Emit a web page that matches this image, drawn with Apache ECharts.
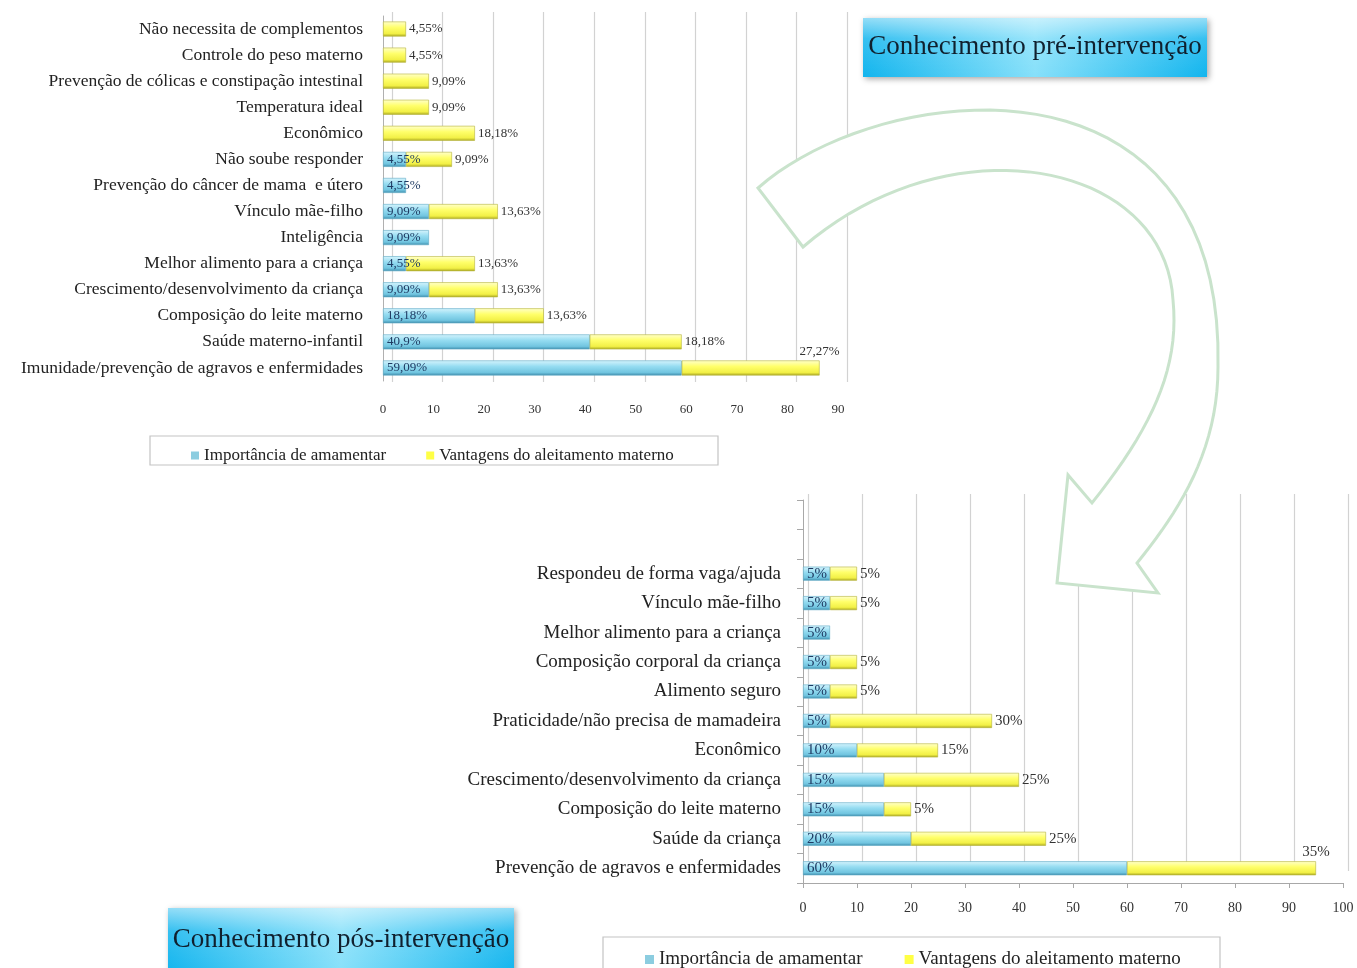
<!DOCTYPE html>
<html>
<head>
<meta charset="utf-8">
<script src="https://cdn.jsdelivr.net/npm/echarts@6/dist/echarts.min.js"></script>
<style>
html,body{margin:0;padding:0;background:#fff;}
#chart{width:1357px;height:968px;}
</style>
</head>
<body>
<div id="chart"></div>
<script>
// ---------- DATA ----------
const seriesNames = ['Importância de amamentar', 'Vantagens do aleitamento materno'];

const preCategories = [
  'Não necessita de complementos',
  'Controle do peso materno',
  'Prevenção de cólicas e constipação intestinal',
  'Temperatura ideal',
  'Econômico',
  'Não soube responder',
  'Prevenção do câncer de mama  e útero',
  'Vínculo mãe-filho',
  'Inteligência',
  'Melhor alimento para a criança',
  'Crescimento/desenvolvimento da criança',
  'Composição do leite materno',
  'Saúde materno-infantil',
  'Imunidade/prevenção de agravos e enfermidades'
];
const preImportancia = [0, 0, 0, 0, 0, 4.55, 4.55, 9.09, 9.09, 4.55, 9.09, 18.18, 40.9, 59.09];
const preVantagens   = [4.55, 4.55, 9.09, 9.09, 18.18, 9.09, 0, 13.63, 0, 13.63, 13.63, 13.63, 18.18, 27.27];

const posCategories = [
  ' ',
  '  ',
  'Respondeu de forma vaga/ajuda',
  'Vínculo mãe-filho',
  'Melhor alimento para a criança',
  'Composição corporal da criança',
  'Alimento seguro',
  'Praticidade/não precisa de mamadeira',
  'Econômico',
  'Crescimento/desenvolvimento da criança',
  'Composição do leite materno',
  'Saúde da criança',
  'Prevenção de agravos e enfermidades'
];
const posImportancia = [0, 0, 5, 5, 5, 5, 5, 5, 10, 15, 15, 20, 60];
const posVantagens   = [0, 0, 5, 5, 0, 5, 5, 30, 15, 25, 5, 25, 35];

const preAxisMax = 90;
const posAxisMax = 100;
const axisStep = 10;

const preTitle = 'Conhecimento pré-intervenção';
const posTitle = 'Conhecimento pós-intervenção';

// ---------- HELPERS ----------
const SERIF = "'Liberation Serif', 'DejaVu Serif', serif";
const fmt = v => String(v).replace('.', ',') + '%';
const labelText = p => (typeof p.value === 'number' && p.value > 0 ? fmt(p.value) : '');
const noZero = v => (v === 0 ? '-' : v);

const blueFill = {
  type: 'linear', x: 0, y: 0, x2: 0, y2: 1,
  colorStops: [
    { offset: 0, color: '#d6f4fd' },
    { offset: 0.4, color: '#95dcf1' },
    { offset: 0.8, color: '#71c5e0' },
    { offset: 1, color: '#3d8cab' }
  ]
};
const yellowFill = {
  type: 'linear', x: 0, y: 0, x2: 0, y2: 1,
  colorStops: [
    { offset: 0, color: '#ffffcc' },
    { offset: 0.4, color: '#ffff6a' },
    { offset: 0.8, color: '#f2f046' },
    { offset: 1, color: '#a9a620' }
  ]
};

function maxTotalIndex(a, b) {
  let idx = 0, best = -1;
  a.forEach((v, i) => { const t = v + b[i]; if (t > best) { best = t; idx = i; } });
  return idx;
}

function makeSeries(imp, van, axisIdx, fontSize, barWidth) {
  const top = maxTotalIndex(imp, van);
  const vanData = van.map((v, i) => i === top ? {
    value: v,
    label: { position: ['100%', -2], align: 'center', verticalAlign: 'bottom', distance: 0 }
  } : noZero(v));
  return [
    {
      name: seriesNames[0], type: 'bar', stack: 's' + axisIdx,
      xAxisIndex: axisIdx, yAxisIndex: axisIdx,
      barWidth: barWidth, data: imp.map(noZero),
      itemStyle: { color: blueFill, borderColor: '#5ea9c4', borderWidth: 0.6 },
      label: {
        show: true, position: 'insideLeft', distance: 4,
        formatter: labelText,
        color: '#1f3b63', fontFamily: SERIF, fontSize: fontSize
      },
      z: 3
    },
    {
      name: seriesNames[1], type: 'bar', stack: 's' + axisIdx,
      xAxisIndex: axisIdx, yAxisIndex: axisIdx,
      barWidth: barWidth, data: vanData,
      itemStyle: { color: yellowFill, borderColor: '#b6b33a', borderWidth: 0.6 },
      label: {
        show: true, position: 'right', distance: 3,
        formatter: labelText,
        color: '#333', fontFamily: SERIF, fontSize: fontSize
      },
      z: 3
    }
  ];
}

// decorative arrow outline: sample cubic segments into polygon points
function cubic(p0, p1, p2, p3, n) {
  const pts = [];
  for (let i = 1; i <= n; i++) {
    const t = i / n, u = 1 - t;
    pts.push([
      u*u*u*p0[0] + 3*u*u*t*p1[0] + 3*u*t*t*p2[0] + t*t*t*p3[0],
      u*u*u*p0[1] + 3*u*u*t*p1[1] + 3*u*t*t*p2[1] + t*t*t*p3[1]
    ]);
  }
  return pts;
}
function arrowPoints() {
  let pts = [[758, 188]];
  pts = pts.concat(cubic([758,188],[880,80],[1225,40],[1218,367], 40));
  pts = pts.concat(cubic([1218,367],[1218,450],[1180,510],[1137,563], 20));
  pts.push([1158,593],[1057,583],[1068,475],[1092,503]);
  pts = pts.concat(cubic([1092,503],[1150,430],[1180,370],[1173,300], 20));
  pts = pts.concat(cubic([1173,300],[1165,160],[950,120],[803,247], 40));
  return pts;
}

// ---------- LAYOUT ----------
const preGrid = { left: 383, top: 16, width: 455, height: 365 };
const posGrid = { left: 803, top: 500, width: 540, height: 383 };

const chart = echarts.init(document.getElementById('chart'), null, { renderer: 'canvas' });

function titleBox(x, y, w, h, textDy, text) {
  return [
    {
      type: 'rect', z: 20, shape: { x: x, y: y, width: w, height: h },
      style: {
        fill: {
          type: 'linear', x: 0, y: 0, x2: 1, y2: 0,
          colorStops: [
            { offset: 0, color: '#12b5ee' },
            { offset: 0.5, color: '#86e0fa' },
            { offset: 1, color: '#12b5ee' }
          ]
        },
        shadowBlur: 6, shadowOffsetX: 2, shadowOffsetY: 2, shadowColor: 'rgba(0,0,0,0.35)'
      }
    },
    {
      type: 'rect', z: 20, shape: { x: x, y: y, width: w, height: h },
      style: {
        fill: {
          type: 'linear', x: 0, y: 0, x2: 0, y2: 1,
          colorStops: [
            { offset: 0, color: 'rgba(255,255,255,0.55)' },
            { offset: 0.35, color: 'rgba(255,255,255,0.15)' },
            { offset: 1, color: 'rgba(255,255,255,0)' }
          ]
        }
      }
    },
    {
      type: 'text', z: 21, x: x + w / 2, y: y + textDy,
      style: {
        text: text, fill: '#10202e', font: '27px ' + SERIF,
        textAlign: 'center', textVerticalAlign: 'middle'
      }
    }
  ];
}

const legendData = [
  { name: seriesNames[0], itemStyle: { color: '#8ccde0', borderWidth: 0 } },
  { name: seriesNames[1], itemStyle: { color: '#ffff45', borderWidth: 0 } }
];

const option = {
  backgroundColor: '#fff',
  animation: false,
  legend: [
    {
      data: legendData,
      left: 186, top: 442, icon: 'rect', itemWidth: 8, itemHeight: 8, itemGap: 40,
      textStyle: { fontFamily: SERIF, fontSize: 17, color: '#222' }
    },
    {
      data: legendData,
      left: 640, top: 945, icon: 'rect', itemWidth: 9, itemHeight: 9, itemGap: 42,
      textStyle: { fontFamily: SERIF, fontSize: 19, color: '#222' }
    }
  ],
  grid: [
    preGrid,
    posGrid,
    { left: preGrid.left + 9, top: preGrid.top - 4, width: preGrid.width, height: preGrid.height + 5 },
    { left: posGrid.left + 5, top: posGrid.top - 6, width: posGrid.width, height: posGrid.height - 6 }
  ],
  xAxis: [
    {
      gridIndex: 0, type: 'value', min: 0, max: preAxisMax, interval: axisStep,
      axisLine: { show: false }, axisTick: { show: false },
      splitLine: { show: false },
      axisLabel: { margin: 22, fontFamily: SERIF, fontSize: 13, color: '#333' }
    },
    {
      gridIndex: 1, type: 'value', min: 0, max: posAxisMax, interval: axisStep,
      axisLine: { show: true, lineStyle: { color: '#a8a8a8' } },
      axisTick: { show: true, length: 5, lineStyle: { color: '#a8a8a8' } },
      splitLine: { show: false },
      axisLabel: { margin: 18, fontFamily: SERIF, fontSize: 14, color: '#333' }
    },
    {
      gridIndex: 2, type: 'value', min: 0, max: preAxisMax, interval: axisStep,
      axisLine: { show: false }, axisTick: { show: false }, axisLabel: { show: false },
      splitLine: { show: true, lineStyle: { color: '#d2d2d2', width: 1.2 } }
    },
    {
      gridIndex: 3, type: 'value', min: 0, max: posAxisMax, interval: axisStep,
      axisLine: { show: false }, axisTick: { show: false }, axisLabel: { show: false },
      splitLine: { show: true, lineStyle: { color: '#d2d2d2', width: 1.2 } }
    }
  ],
  yAxis: [
    {
      gridIndex: 0, type: 'category', data: preCategories, inverse: true,
      axisLine: { show: true, lineStyle: { color: '#b0b0b0' } },
      axisTick: { show: false },
      axisLabel: { margin: 20, fontFamily: SERIF, fontSize: 17.5, color: '#222' }
    },
    {
      gridIndex: 1, type: 'category', data: posCategories, inverse: true,
      axisLine: { show: true, lineStyle: { color: '#a8a8a8' } },
      axisTick: { show: true, length: 6, lineStyle: { color: '#a8a8a8' } },
      axisLabel: { margin: 22, fontFamily: SERIF, fontSize: 19, color: '#222' }
    },
    { gridIndex: 2, type: 'value', show: false, splitLine: { show: false } },
    { gridIndex: 3, type: 'value', show: false, splitLine: { show: false } }
  ],
  series: [
    ...makeSeries(preImportancia, preVantagens, 0, 13, 15),
    ...makeSeries(posImportancia, posVantagens, 1, 15, 14)
  ],
  graphic: [
    {
      type: 'polygon', z: 10,
      shape: { points: arrowPoints() },
      style: { fill: '#ffffff', stroke: '#c9e3cc', lineWidth: 3 }
    },
    ...titleBox(863, 18, 344, 59, 29, preTitle),
    ...titleBox(168, 908, 346, 66, 32, posTitle),
    {
      type: 'rect', z: 1,
      shape: { x: 150, y: 436, width: 568, height: 29 },
      style: { fill: 'none', stroke: '#c4c4c4', lineWidth: 1.2 }
    },
    {
      type: 'rect', z: 1,
      shape: { x: 603, y: 937, width: 617, height: 40 },
      style: { fill: 'none', stroke: '#c4c4c4', lineWidth: 1.2 }
    }
  ]
};

chart.setOption(option);
</script>
</body>
</html>
